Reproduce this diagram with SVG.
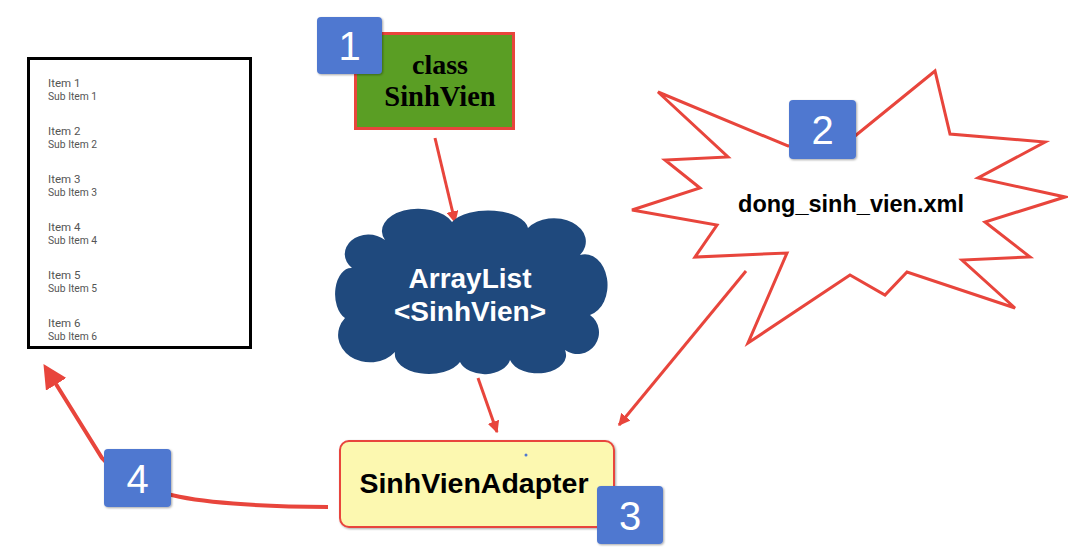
<svg xmlns="http://www.w3.org/2000/svg" width="1068" height="555" viewBox="0 0 1068 555">
<defs>
<style>
.badge rect{fill:#4f78d0}
.badge text{font-family:"Liberation Sans",Arial,sans-serif;font-size:40px;fill:#fff;text-anchor:middle}
.item{font-family:Roboto,"Liberation Sans",sans-serif;font-size:11.5px;fill:#555}
.sub{font-family:Roboto,"Liberation Sans",sans-serif;font-size:10.3px;fill:#555}
.conn{stroke:#e8453c;stroke-width:3;fill:none}
</style>
<marker id="ah" viewBox="0 0 10 10" refX="9" refY="5" markerWidth="4" markerHeight="4" orient="auto" markerUnits="strokeWidth">
<path d="M0,0 L10,5 L0,10 z" fill="#e8453c"/>
</marker>
<marker id="ahbig" viewBox="0 0 10 10" refX="8" refY="5" markerWidth="6" markerHeight="6" orient="auto" markerUnits="strokeWidth">
<path d="M0,0 L10,5 L0,10 z" fill="#e8453c"/>
</marker>
<filter id="sh" x="-20%" y="-20%" width="140%" height="140%">
<feDropShadow dx="1" dy="1" stdDeviation="1" flood-opacity="0.35"/>
</filter>
</defs>
<rect width="1068" height="555" fill="#fff"/>

<g id="list">
<rect x="28.5" y="58.5" width="222" height="289" fill="#fff" stroke="#000" stroke-width="3"/>
<text class="item" x="48" y="87">Item 1</text><text class="sub" x="48" y="100">Sub Item 1</text>
<text class="item" x="48" y="135">Item 2</text><text class="sub" x="48" y="148">Sub Item 2</text>
<text class="item" x="48" y="183">Item 3</text><text class="sub" x="48" y="196">Sub Item 3</text>
<text class="item" x="48" y="231">Item 4</text><text class="sub" x="48" y="244">Sub Item 4</text>
<text class="item" x="48" y="279">Item 5</text><text class="sub" x="48" y="292">Sub Item 5</text>
<text class="item" x="48" y="327">Item 6</text><text class="sub" x="48" y="340">Sub Item 6</text>
</g>

<g id="connectors">
<line class="conn" x1="435" y1="138" x2="455" y2="222" marker-end="url(#ah)"/>
<line class="conn" x1="478" y1="378" x2="497" y2="432" marker-end="url(#ah)"/>
<line class="conn" x1="746" y1="271" x2="619" y2="425" marker-end="url(#ah)"/>
<path class="conn" style="stroke-width:4" d="M328,507 C200,506 135,497 102,458 L46,368" marker-end="url(#ahbig)"/>
</g>

<g id="classSinhVien">
<rect x="355.5" y="33.5" width="158" height="95" fill="#5a9e24" stroke="#e8453c" stroke-width="3"/>
<text x="440" y="74" font-family="'Liberation Serif','Times New Roman',serif" font-weight="bold" font-size="28" text-anchor="middle">class</text>
<text x="440" y="106" font-family="'Liberation Serif','Times New Roman',serif" font-weight="bold" font-size="28.5" text-anchor="middle">SinhVien</text>
</g>

<g id="arrayList">
<path fill="#1f497d" d="M385,240 A36,22 0 0 1 452,222 A40,20 0 0 1 528,228 A30,22 0 0 1 580,255 A22,30 0 0 1 590,315 A20,20 0 0 1 565,350 A28,18 0 0 1 510,360 A26,18 0 0 1 460,362 A34,20 0 0 1 395,352 A28,24 0 0 1 345,318 A16,26 0 0 1 352,268 A22,18 0 0 1 385,240 Z"/>
<text x="470" y="288" font-family="'Liberation Sans',Arial,sans-serif" font-weight="bold" font-size="28" fill="#fff" text-anchor="middle">ArrayList</text>
<text x="470" y="321" font-family="'Liberation Sans',Arial,sans-serif" font-weight="bold" font-size="28" fill="#fff" text-anchor="middle">&lt;SinhVien&gt;</text>
</g>

<g id="xml">
<polygon fill="#fff" stroke="#e8453c" stroke-width="3" stroke-linejoin="miter" points="658,92 788,146 855,136 935,71 950,134 1045,142 978,178 1065,197 985,222 1030,257 962,260 1015,308 907,272 885,295 850,275 748,343 787,253 695,257 717,225 632,210 700,188 665,160 728,157"/>
<text x="851" y="212" font-family="'Liberation Sans',Arial,sans-serif" font-weight="bold" font-size="23.5" text-anchor="middle">dong_sinh_vien.xml</text>
</g>

<g id="adapter">
<rect x="340" y="441" width="274" height="86" rx="9" fill="#fcf8b0" stroke="#e8453c" stroke-width="2" filter="url(#sh)"/>
<circle cx="526" cy="455" r="1.5" fill="#4f78d0"/>
<text x="474" y="493" font-family="'Liberation Sans',Arial,sans-serif" font-weight="bold" font-size="28.5" text-anchor="middle">SinhVienAdapter</text>
</g>

<g id="badge1" class="badge"><rect x="317" y="17" width="65" height="57" rx="4" filter="url(#sh)"/><text x="349.5" y="60">1</text></g>
<g id="badge2" class="badge"><rect x="789" y="100" width="67" height="59" rx="4" filter="url(#sh)"/><text x="822.5" y="144">2</text></g>
<g id="badge3" class="badge"><rect x="597" y="486" width="66" height="58" rx="4" filter="url(#sh)"/><text x="630" y="530">3</text></g>
<g id="badge4" class="badge"><rect x="104" y="449" width="67" height="58" rx="4" filter="url(#sh)"/><text x="137.5" y="493">4</text></g>
</svg>
